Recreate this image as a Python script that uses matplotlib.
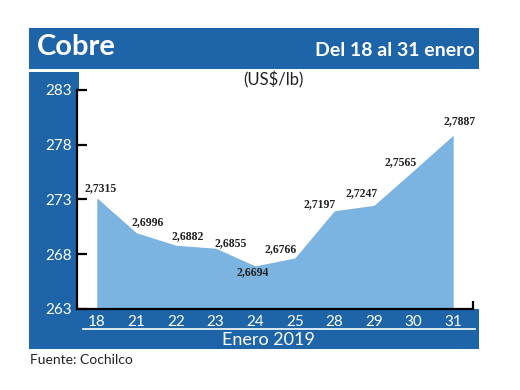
import matplotlib
matplotlib.use("Agg")
import matplotlib.pyplot as plt
from matplotlib.patches import Rectangle

# datos (US$/lb)
dias = ['18', '21', '22', '23', '24', '25', '28', '29', '30', '31']
precios = [2.7315, 2.6996, 2.6882, 2.6855, 2.6694, 2.6766, 2.7197, 2.7247, 2.7565, 2.7887]
yticks = [263, 268, 273, 278, 283]

# desplazamiento de las etiquetas (pixeles)
offs = [(4, 10), (11, 11), (12, 9), (15, 5), (-3, -6),
        (-14, 9), (-15, 7), (-12, 12), (-13, 8), (6, 14)]

W, H = 520, 390
azul = '#1e64a8'
celeste = '#7bb3e1'
sans = ['Lato', 'DejaVu Sans']

fig = plt.figure(figsize=(W / 100, H / 100), dpi=100, facecolor='white')


def box(x, y, w, h):
    # pixeles (desde arriba) -> fraccion de figura
    return (x / W, 1 - (y + h) / H), w / W, h / H


for x, y, w, h in [(29, 28, 450, 41), (29, 72, 50, 277), (29, 309, 450, 40)]:
    xy, ww, hh = box(x, y, w, h)
    fig.add_artist(Rectangle(xy, ww, hh, transform=fig.transFigure,
                             facecolor=azul, edgecolor='none', zorder=-1))

ax = fig.add_axes([77 / W, 1 - 309 / H, 396 / W, 219 / H])
x = list(range(len(dias)))
y = [p * 100 for p in precios]
ax.fill_between(x, y, 263, color=celeste, lw=0)
ax.set_xlim(-0.5, len(dias) - 0.5)
ax.set_ylim(263, 283)

for xi, yi, p, (dx, dy) in zip(x, y, precios, offs):
    ax.annotate(f"{p:.4f}".replace('.', ','), (xi, yi), xytext=(dx, dy),
                textcoords='offset pixels', ha='center', va='center',
                fontsize=8.5, fontweight='bold', family='Liberation Serif',
                color='#222222')

for s in ['top', 'right']:
    ax.spines[s].set_visible(False)
ax.spines['left'].set_linewidth(1.6)
ax.spines['bottom'].set_linewidth(1.6)
ax.plot([1, 1], [0, 0.035], transform=ax.transAxes, color='black', lw=1.6,
        clip_on=False, solid_capstyle='butt')

ax.set_yticks(yticks)
ax.tick_params(axis='y', direction='in', length=7, width=1.6, pad=4,
               labelcolor='white', labelsize=11)
ax.set_xticks(x)
ax.set_xticklabels(dias)
ax.tick_params(axis='x', length=0, pad=4, labelcolor='white', labelsize=11)
for lab in ax.get_xticklabels() + ax.get_yticklabels():
    lab.set_family(sans)

# linea blanca y titulo del eje x
fig.add_artist(plt.Line2D([83 / W, 475 / W], [1 - 329 / H, 1 - 329 / H],
                          color='white', lw=1.2, transform=fig.transFigure))
fig.text(268 / W, 1 - 340 / H, 'Enero 2019', color='white', fontsize=13,
         ha='center', va='center', family=sans)

fig.text(37 / W, 1 - 47 / H, 'Cobre', color='white', fontsize=21,
         fontweight='bold', ha='left', va='center', family=sans)
fig.text(475 / W, 1 - 51 / H, 'Del 18 al 31 enero', color='white',
         fontsize=14, fontweight='bold', ha='right', va='center', family=sans)
fig.text(273 / W, 1 - 80 / H, '(US$/lb)', color='#222222', fontsize=12,
         ha='center', va='center', family=sans)
fig.text(30 / W, 1 - 360 / H, 'Fuente: Cochilco', color='#222222',
         fontsize=10, ha='left', va='center', family=sans)

fig.savefig('out.png', dpi=100)
